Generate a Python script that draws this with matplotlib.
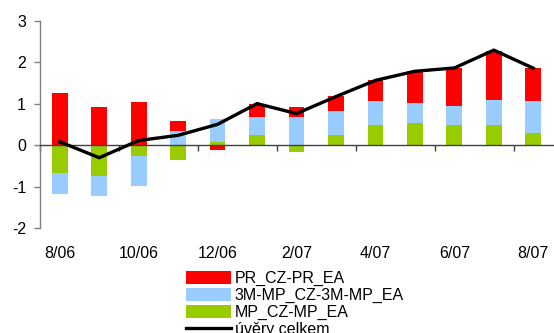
import numpy as np
import matplotlib
matplotlib.use("Agg")
import matplotlib.pyplot as plt
from matplotlib.patches import Patch
from matplotlib.lines import Line2D

plt.rcParams['font.family'] = ['Liberation Sans', 'DejaVu Sans']

months = ["8/06", "9/06", "10/06", "11/06", "12/06", "1/07", "2/07",
          "3/07", "4/07", "5/07", "6/07", "7/07", "8/07"]
pr_diff = [1.25, 0.91, 1.03, 0.24, -0.13, 0.32, 0.24, 0.365, 0.50, 0.77, 0.92, 1.19, 0.795]
mp3m_diff = [-0.505, -0.47, -0.705, 0.33, 0.565, 0.435, 0.67, 0.58, 0.585, 0.485, 0.46, 0.605, 0.78]
mp_diff = [-0.685, -0.75, -0.27, -0.35, 0.065, 0.235, -0.155, 0.235, 0.475, 0.525, 0.475, 0.475, 0.28]
loans_total = [0.08, -0.305, 0.11, 0.235, 0.50, 1.0, 0.76, 1.17, 1.56, 1.78, 1.86, 2.29, 1.855]

series = [
    ("MP_CZ-MP_EA", mp_diff, "#99CC00"),
    ("3M-MP_CZ-3M-MP_EA", mp3m_diff, "#99CCFF"),
    ("PR_CZ-PR_EA", pr_diff, "#FF0000"),
]

fig = plt.figure(figsize=(5.54, 3.33), dpi=100)
ax = fig.add_axes([40 / 554, 1 - 228 / 333, 513 / 554, 207.3 / 333])

x = np.arange(len(months))
pos_base = np.zeros(len(months))
neg_base = np.zeros(len(months))
for name, vals, color in series:
    v = np.asarray(vals)
    bottom = np.where(v >= 0, pos_base, neg_base)
    ax.bar(x, v, width=0.4, bottom=bottom, color=color, linewidth=0, zorder=2)
    pos_base = pos_base + np.where(v >= 0, v, 0)
    neg_base = neg_base + np.where(v < 0, v, 0)

ax.plot(x, loans_total, color="black", linewidth=2.4, zorder=4,
        solid_joinstyle="miter")

ax.set_xlim(-0.5, len(months) - 0.5)
ax.set_ylim(-2, 3)
ax.set_yticks([-2, -1, 0, 1, 2, 3])
ax.set_yticklabels(["-2", "-1", "0", "1", "2", "3"])

for s in ["top", "right"]:
    ax.spines[s].set_visible(False)
ax.spines["left"].set_color("#808080")
ax.spines["left"].set_linewidth(1.0)
ax.spines["bottom"].set_position(("data", 0))
ax.spines["bottom"].set_color("#404040")
ax.spines["bottom"].set_linewidth(1.0)
ax.spines["bottom"].set_zorder(3)

ax.tick_params(axis="y", direction="out", length=4, width=1.0,
               color="#808080", labelsize=11.5, pad=6)
ax.set_xticks(np.arange(-0.5, len(months), 2))
ax.tick_params(axis="x", direction="out", length=4, width=1.0,
               color="#404040", labelbottom=False)

for i in range(0, len(months), 2):
    ax.text(x[i], -0.125, months[i], transform=ax.get_xaxis_transform(),
            ha="center", va="center", fontsize=11.5)

handles = [
    Patch(facecolor="#FF0000", edgecolor="none"),
    Patch(facecolor="#99CCFF", edgecolor="none"),
    Patch(facecolor="#99CC00", edgecolor="none"),
    Line2D([0], [0], color="black", linewidth=2.4),
]
labels = ["PR_CZ-PR_EA", "3M-MP_CZ-3M-MP_EA", "MP_CZ-MP_EA", "úvěry celkem"]
fig.legend(handles, labels, loc="upper left",
           bbox_to_anchor=(186 / 554, 1 - 271 / 333),
           frameon=False, fontsize=11.5, borderpad=0, borderaxespad=0,
           handlelength=2.8, handleheight=0.9, handletextpad=0.25,
           labelspacing=0.1)

fig.savefig("out.png", dpi=100)
